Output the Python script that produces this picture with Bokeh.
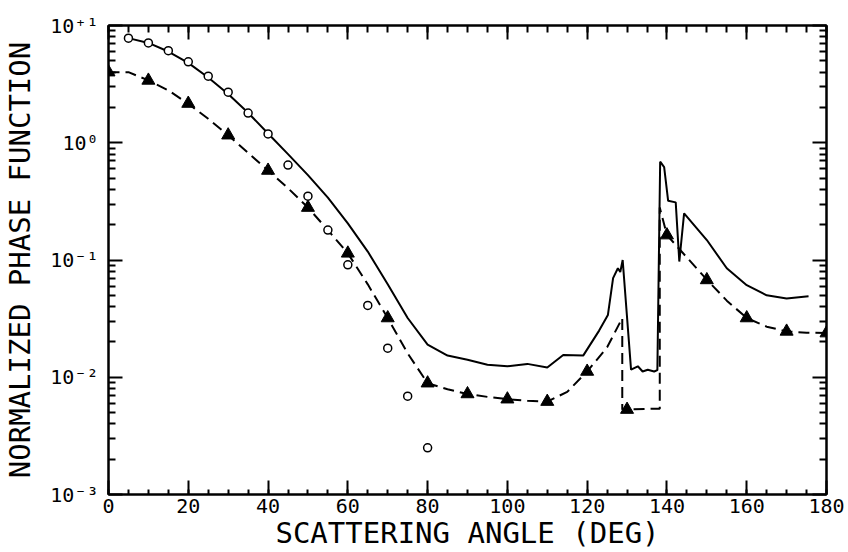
from bokeh.plotting import figure
from bokeh.models import FixedTicker, LinearAxis, LogAxis, Range1d
from bokeh.embed import file_html
from bokeh.resources import INLINE

# ---- data ----
# solid curve (theory)
solid_deg = [5, 10, 15, 20, 25, 30, 35, 40, 45, 50, 55, 60, 65, 70, 75, 80, 85, 90, 95, 100,
             105, 110, 114, 119, 123, 125.2, 126.5, 127.7, 128.3, 128.9, 131, 132.7, 133.9,
             135.2, 136.8, 137.6, 138.3, 139.3, 140.3, 142.2, 143.1, 144.3, 150, 155, 160,
             165, 170, 175.5]
solid_val = [7.8, 7.1, 6.0, 4.8, 3.6, 2.6, 1.8, 1.2, 0.8, 0.53, 0.34, 0.205, 0.118, 0.062,
             0.032, 0.019, 0.0153, 0.0141, 0.0128, 0.0124, 0.013, 0.0121, 0.0155, 0.0153,
             0.025, 0.034, 0.07, 0.085, 0.079, 0.1, 0.0116, 0.0124, 0.0112, 0.0116, 0.0112,
             0.0115, 0.69, 0.62, 0.32, 0.31, 0.097, 0.25, 0.148, 0.085, 0.061, 0.050, 0.047,
             0.049]

# dashed curve (second model)
dash_deg = [0, 5, 10, 15, 20, 25, 30, 35, 40, 45, 50, 55, 60, 65, 70, 75, 80, 85, 90, 95,
            100, 105, 110, 115, 120, 125, 128.8, 128.8, 138.2, 138.2, 140, 145, 150, 155,
            160, 165, 170, 175, 180]
dash_val = [4.0, 4.0, 3.4, 2.8, 2.15, 1.6, 1.16, 0.82, 0.58, 0.41, 0.28, 0.18, 0.114, 0.062,
            0.032, 0.016, 0.0089, 0.0079, 0.0072, 0.0068, 0.0065, 0.0063, 0.0062, 0.0075,
            0.0112, 0.018, 0.032, 0.0053, 0.0054, 0.28, 0.163, 0.105, 0.068, 0.045, 0.032,
            0.027, 0.0246, 0.024, 0.0238]

# triangles on the dashed curve
tri_deg = [0, 10, 20, 30, 40, 50, 60, 70, 80, 90, 100, 110, 120, 130, 140, 150, 160, 170, 180]
tri_val = [4.0, 3.4, 2.16, 1.16, 0.58, 0.28, 0.114, 0.032, 0.0089, 0.0072, 0.0065, 0.0062,
           0.0112, 0.0053, 0.163, 0.0676, 0.032, 0.0246, 0.0238]

# open circles (measurements)
circ_deg = [5, 10, 15, 20, 25, 30, 35, 40, 45, 50, 55, 60, 65, 70, 75, 80]
circ_val = [7.8, 7.1, 6.1, 4.9, 3.7, 2.7, 1.79, 1.19, 0.645, 0.35, 0.18, 0.091, 0.041,
            0.0177, 0.0069, 0.0025]

x_ticks = [0, 20, 40, 60, 80, 100, 120, 140, 160, 180]
x_minor = [v for v in range(0, 181, 5)]
y_ticks = [1e-3, 1e-2, 1e-1, 1.0, 10.0]
y_tick_labels = ["10\u207b\u00b3", "10\u207b\u00b2", "10\u207b\u00b9", "10\u2070", "10\u207a\u00b9"]
y_minor = [m * 10.0 ** e for e in range(-3, 1) for m in range(2, 10)]

FONT = "DejaVu Sans Mono"

p = figure(width=848, height=552, x_range=Range1d(0, 180), y_range=Range1d(1e-3, 10),
           y_axis_type="log", output_backend="svg", toolbar_location=None,
           min_border_left=106, min_border_right=22, min_border_top=25, min_border_bottom=57)
p.background_fill_color = "white"
p.border_fill_color = "white"
p.outline_line_color = "black"
p.outline_line_width = 2
p.grid.visible = False

bottom = p.below[0]
left = p.left[0]

# curves
p.line(solid_deg, solid_val, line_color="black", line_width=2)
p.line(dash_deg, dash_val, line_color="black", line_width=2, line_dash="11 6")
p.scatter(tri_deg, tri_val, marker="triangle", size=13, fill_color="black", line_color="black")
p.scatter(circ_deg, circ_val, marker="circle", size=8, fill_color="white", line_color="black",
          line_width=1.5)

xt = FixedTicker(ticks=x_ticks, minor_ticks=x_minor)
yt = FixedTicker(ticks=y_ticks, minor_ticks=y_minor)
overrides = {v: s for v, s in zip(y_ticks, y_tick_labels)}

top = LinearAxis()
p.add_layout(top, "above")
right = LogAxis()
p.add_layout(right, "right")

for ax in [bottom, top]:
    ax.ticker = xt
for ax in [left, right]:
    ax.ticker = yt

for ax in [bottom, top, left, right]:
    ax.axis_line_width = 2
    ax.axis_line_color = "black"
    ax.major_tick_in = 14
    ax.major_tick_out = 0
    ax.minor_tick_in = 7
    ax.minor_tick_out = 0
    ax.major_tick_line_width = 2
    ax.minor_tick_line_width = 2
    ax.major_tick_line_color = "black"
    ax.minor_tick_line_color = "black"
    ax.major_label_text_font = FONT
    ax.major_label_text_font_size = "20px"
    ax.major_label_text_color = "black"

for ax in [top, right]:
    ax.major_label_text_font_size = "1px"
    ax.major_label_text_color = None
    ax.major_label_standoff = 0

bottom.minor_tick_in = 5
bottom.major_label_standoff = 4
left.major_label_overrides = overrides
left.major_label_standoff = 10

bottom.axis_label = "SCATTERING ANGLE (DEG)"
left.axis_label = "NORMALIZED PHASE FUNCTION"
for ax in [bottom, left]:
    ax.axis_label_text_font = FONT
    ax.axis_label_text_font_size = "29px"
    ax.axis_label_text_font_style = "normal"
    ax.axis_label_text_color = "black"
bottom.axis_label_standoff = 0
left.axis_label_standoff = 10

open("out.html", "w").write(file_html(p, INLINE))
